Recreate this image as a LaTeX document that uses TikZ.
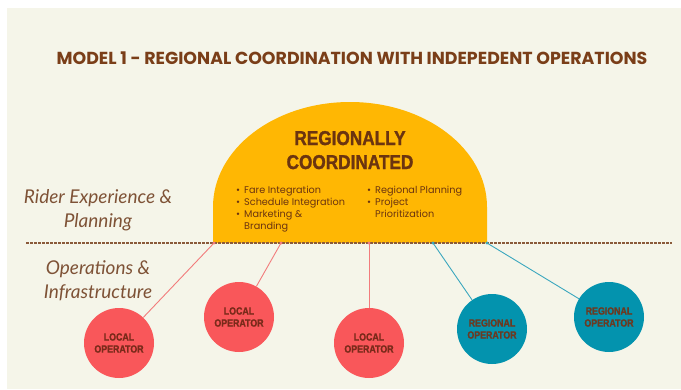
\documentclass[tikz,border=0pt]{standalone}
\usepackage{graphicx}
\usepackage{fontspec}
\setmainfont{Poppins}
\newfontfamily\titlefont{Poppins}
\newfontfamily\condfont[BoldFeatures={FakeBold=1.5}]{Liberation Sans}
\newfontfamily\labfont{Lato}
\newfontfamily\bulfont{Poppins}
\newcommand\mybul{\makebox[8pt][l]{•}}
\newcommand\headsq[1]{\scalebox{0.86}[1]{#1}}
\newcommand\circsq[1]{\scalebox{0.84}[1]{#1}}
\definecolor{bgcream}{HTML}{F5F5E9}
\definecolor{domeyellow}{HTML}{FFB703}
\definecolor{titlebrown}{HTML}{7A3E18}
\definecolor{domebrown}{HTML}{6B3410}
\definecolor{labbrown}{HTML}{7E5236}
\definecolor{dashbrown}{HTML}{8A5A3A}
\definecolor{localred}{HTML}{F9575A}
\definecolor{redline}{HTML}{F27C7C}
\definecolor{regteal}{HTML}{0393AE}
\definecolor{tealline}{HTML}{3BA7BE}
\definecolor{circtextred}{HTML}{7A2A1A}
\definecolor{circtextteal}{HTML}{6B3A22}
\tikzset{
  opcircle/.style={circle, minimum size=70pt, inner sep=0pt, align=center,
    font=\condfont\bfseries\fontsize{10.5}{12}\selectfont},
  localop/.style={opcircle, fill=localred, text=circtextred},
  regop/.style={opcircle, fill=regteal, text=circtextteal},
  redconn/.style={draw=redline, line width=0.9pt},
  tealconn/.style={draw=tealline, line width=0.9pt},
  sidelabel/.style={align=center, anchor=base, text=labbrown, font=\labfont\itshape\fontsize{19}{23.5}\selectfont},
  bullist/.style={align=left, anchor=north west, inner sep=0pt, text=domebrown,
    font=\bulfont\fontsize{9.7}{12}\selectfont},
}
\begin{document}
\begin{tikzpicture}[x=1pt, y=-1pt]
\useasboundingbox (0,0) rectangle (681,389);
\fill[white] (0,0) rectangle (681,389);
\fill[bgcream] (7,8) rectangle (681,389);

% title
\node[anchor=base, text=titlebrown, font=\titlefont\bfseries\fontsize{17.4}{20}\selectfont] (title) at (352,64)
  {MODEL 1 - REGIONAL COORDINATION WITH INDEPEDENT OPERATIONS};

% dome
\fill[domeyellow] (213,243) -- (213,207) arc[start angle=180, end angle=0, x radius=137, y radius=-105] -- (487,243) -- cycle;

\node[anchor=base, text=domebrown, align=center, font=\condfont\bfseries\fontsize{20}{24}\selectfont] (domehead) at (350,169)
  {\headsq{REGIONALLY}\\\headsq{COORDINATED}};

\node[bullist] (leftlist) at (236,185.5)
  {\mybul Fare Integration\\ \mybul Schedule Integration\\ \mybul Marketing \&\\ \hspace*{8pt}Branding};
\node[bullist] (rightlist) at (367,185.5)
  {\mybul Regional Planning\\ \mybul Project\\ \hspace*{8pt}Prioritization};

% side labels
\node[sidelabel] (rider) at (98,227) {Rider Experience \&\\Planning};
\node[sidelabel] (ops) at (98,298) {Operations \&\\Infrastructure};

% dashed divider
\coordinate (dl) at (26,243);
\coordinate (dr) at (672,243);
\draw[dashbrown, line width=1.1pt, dash pattern=on 2.5pt off 1.5pt] (dl) -- (dr);

% operators
\node[localop] (l1) at (119,343) {\circsq{LOCAL}\\\circsq{OPERATOR}};
\node[localop] (l2) at (239,317) {\circsq{LOCAL}\\\circsq{OPERATOR}};
\node[localop] (l3) at (369,343) {\circsq{LOCAL}\\\circsq{OPERATOR}};
\node[regop] (r1) at (492,329) {\circsq{REGIONAL}\\\circsq{OPERATOR}};
\node[regop] (r2) at (609,317) {\circsq{REGIONAL}\\\circsq{OPERATOR}};

\coordinate (p1) at (214,243);
\coordinate (p2) at (281,243);
\coordinate (p3) at (369,243);
\coordinate (p4) at (433,243);
\coordinate (p5) at (487,243);

\draw[redconn] (p1) -- (l1);
\draw[redconn] (p2) -- (l2);
\draw[redconn] (p3) -- (l3);
\draw[tealconn] (p4) -- (r1);
\draw[tealconn] (p5) -- (r2);

\fill[redline] (p1) circle (1.6pt) (p2) circle (1.6pt) (p3) circle (1.6pt);
\fill[tealline] (p4) circle (1.6pt) (p5) circle (1.6pt);
\end{tikzpicture}
\end{document}
